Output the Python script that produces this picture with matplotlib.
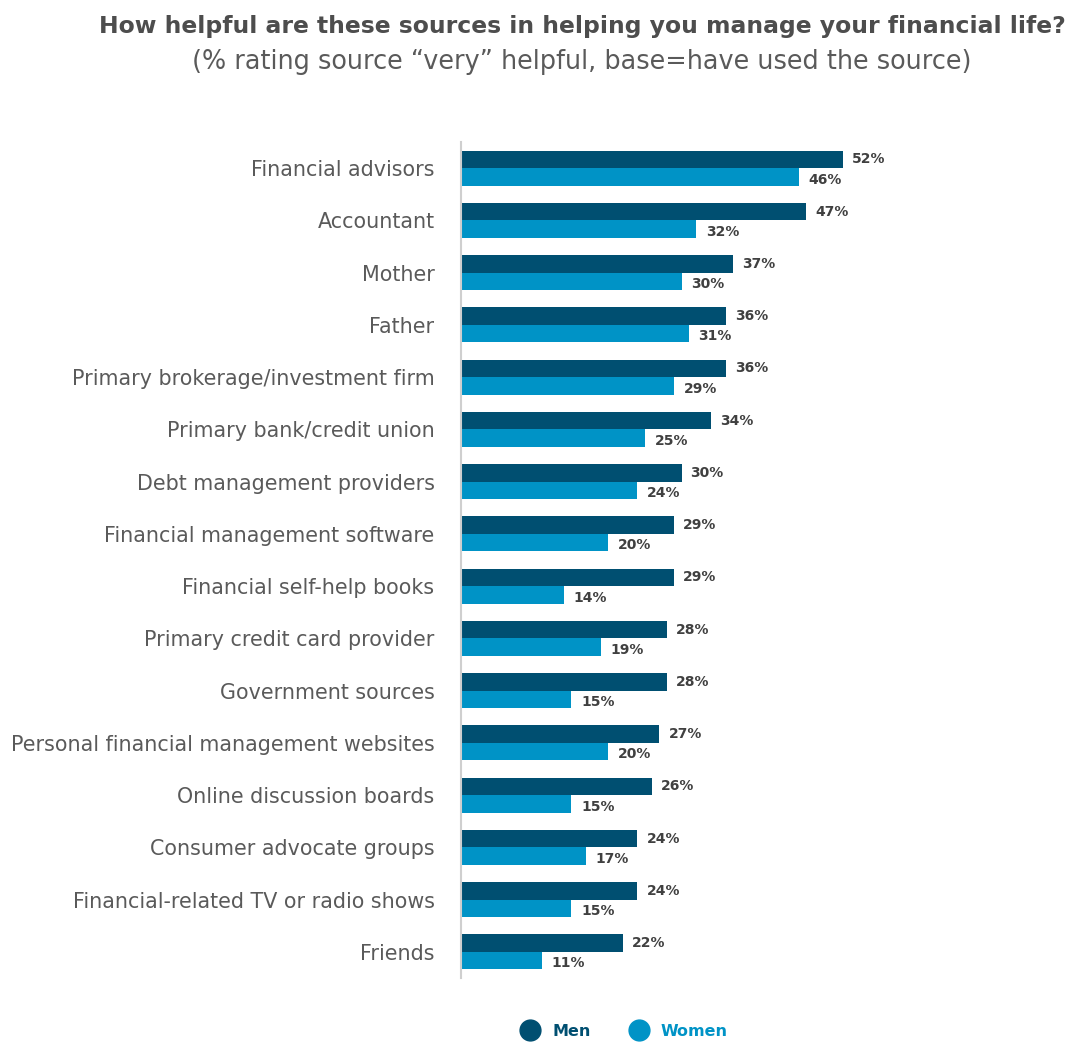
import matplotlib
matplotlib.use("Agg")
import matplotlib.pyplot as plt
from matplotlib.lines import Line2D
import numpy as np

categorias = [
    "Financial advisors",
    "Accountant",
    "Mother",
    "Father",
    "Primary brokerage/investment firm",
    "Primary bank/credit union",
    "Debt management providers",
    "Financial management software",
    "Financial self-help books",
    "Primary credit card provider",
    "Government sources",
    "Personal financial management websites",
    "Online discussion boards",
    "Consumer advocate groups",
    "Financial-related TV or radio shows",
    "Friends",
]
homens = [52, 47, 37, 36, 36, 34, 30, 29, 29, 28, 28, 27, 26, 24, 24, 22]
mulheres = [46, 32, 30, 31, 29, 25, 24, 20, 14, 19, 15, 20, 15, 17, 15, 11]

COR_HOMENS = "#004f71"
COR_MULHERES = "#0093c6"
COR_TEXTO = "#5a5a5a"
COR_ROTULO = "#404040"

fig = plt.figure(figsize=(10.74, 10.42), dpi=100)
ax = fig.add_axes([461 / 1074, 1 - 978 / 1042, 1 - 461 / 1074, 836 / 1042])

y = np.arange(len(categorias))
alt = 0.335

ax.barh(y - alt / 2, homens, height=alt, color=COR_HOMENS)
ax.barh(y + alt / 2, mulheres, height=alt, color=COR_MULHERES)

# rotulos de valor ao lado das barras
for i, (h, m) in enumerate(zip(homens, mulheres)):
    ax.annotate(f"{h}%", (h, i - alt / 2), xytext=(6.5, 0), textcoords="offset points",
                va="center", ha="left", fontsize=10, fontweight="semibold", color=COR_ROTULO)
    ax.annotate(f"{m}%", (m, i + alt / 2), xytext=(7, -2), textcoords="offset points",
                va="center", ha="left", fontsize=10, fontweight="semibold", color=COR_ROTULO)

ax.set_xlim(0, 613 / 7.35)
ax.set_ylim(len(categorias) - 0.5, -0.5)
ax.set_yticks(y)
ax.set_yticklabels(categorias, fontsize=14.9, color=COR_TEXTO)
ax.tick_params(axis="y", length=0, pad=19)
ax.set_xticks([])
for lado in ["top", "right", "bottom"]:
    ax.spines[lado].set_visible(False)
ax.spines["left"].set_color("#cfcfcf")
ax.spines["left"].set_linewidth(1.5)

fig.text(582 / 1074, 1 - 26 / 1042,
         "How helpful are these sources in helping you manage your financial life?",
         ha="center", va="center", fontsize=16.9, fontweight="bold", color="#4d4d4d")
fig.text(582 / 1074, 1 - 62 / 1042,
         "(% rating source \u201cvery\u201d helpful, base=have used the source)",
         ha="center", va="center", fontsize=18.4, color=COR_TEXTO)

# legenda
alcas = [Line2D([], [], marker="o", linestyle="none", markersize=15, color=COR_HOMENS),
         Line2D([], [], marker="o", linestyle="none", markersize=15, color=COR_MULHERES)]
leg = fig.legend(alcas, ["Men", "Women"], loc="center", bbox_to_anchor=(621 / 1074, 1 - 1031 / 1042),
                 ncol=2, frameon=False, handletextpad=0.4, columnspacing=2.0,
                 prop={"size": 11.5, "weight": "bold"})
for texto, cor in zip(leg.get_texts(), [COR_HOMENS, COR_MULHERES]):
    texto.set_color(cor)

fig.savefig("out.png", dpi=100)
